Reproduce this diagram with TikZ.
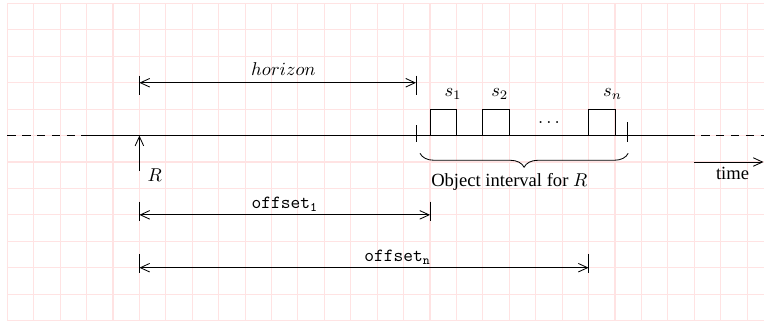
\documentclass[tikz,border=0pt]{standalone}
\usepackage{fontspec}
\newfontfamily\tms{Liberation Serif}
\usetikzlibrary{arrows.meta,decorations.pathreplacing}
\tikzset{
  gridline/.style={red!11, line width=0.6pt},
  axis/.style={line width=0.45pt},
  tip/.tip={Straight Barb[length=5pt,width=4.6pt]},
  dimline/.style={axis, tip-tip},
  oneway/.style={axis, -tip},
  tickline/.style={line width=0.45pt},
  dashpart/.style={axis, dash pattern=on 4.5pt off 3.5pt},
  slot/.style={draw, line width=0.45pt, minimum width=0.5cm, minimum height=0.5cm, inner sep=0pt, outer sep=0pt, anchor=south west},
  lbl/.style={inner sep=0pt, anchor=base},
  bracestyle/.style={axis, decorate, decoration={brace, mirror, amplitude=7.5pt}}
}
\begin{document}
\begin{tikzpicture}[x=0.5cm,y=-0.5cm]
\clip (-0.276,-0.132) rectangle (28.64,12.056);
% grid
\foreach \i in {0,...,29} \draw[gridline] (\i,0) -- (\i,12);
\foreach \j in {0,...,12} \draw[gridline] (0,\j) -- (29,\j);
% timeline
\coordinate (L0) at (0,5);
\coordinate (L1) at (2.8,5);
\coordinate (L2) at (25.7,5);
\coordinate (L3) at (28.8,5);
\draw[dashpart] (L0) -- (L1);
\draw[axis] (L1) -- (L2);
\draw[dashpart] (L2) -- (L3);
% slots
\node[slot] (s1) at (16,5) {};
\node[slot] (s2) at (18,5) {};
\node[slot] (sn) at (22,5) {};
\node[lbl] (s1l) at (16.87,3.53) {$s_1$};
\node[lbl] (s2l) at (18.64,3.53) {$s_2$};
\node[lbl] (snl) at (22.91,3.53) {$s_n$};
\node[lbl] (dots) at (20.5,4.53) {$\ldots$};
% interval ticks on timeline
\coordinate (ia) at (15.47,4.6);
\coordinate (ib) at (15.47,5.23);
\coordinate (ic) at (23.47,4.5);
\coordinate (id) at (23.47,5.23);
\draw[tickline] (ia) -- (ib);
\draw[tickline] (ic) -- (id);
% brace
\coordinate (ba) at (15.62,5.67);
\coordinate (bb) at (23.5,5.67);
\draw[bracestyle] (ba) -- (bb);
\node[lbl] (objlbl) at (19,6.93) {\tms Object interval for $R$};
% R arrow
\coordinate (Rb) at (5,6.33);
\coordinate (Rt) at (5,5);
\draw[oneway] (Rb) -- (Rt);
\node[inner sep=0pt, anchor=base west] (Rlbl) at (5.3,6.74) {$R$};
% horizon
\coordinate (h0) at (5,3);
\coordinate (h1) at (15.47,3);
\coordinate (h0a) at (5,2.73);
\coordinate (h0b) at (5,3.47);
\coordinate (h1a) at (15.47,2.73);
\coordinate (h1b) at (15.47,3.47);
\draw[tickline] (h0a) -- (h0b);
\draw[tickline] (h1a) -- (h1b);
\draw[dimline] (h0) -- (h1);
\node[lbl] (hlbl) at (10.45,2.71) {$horizon$};
% time arrow
\coordinate (t0) at (26,6);
\coordinate (t1) at (28.62,6);
\draw[oneway] (t0) -- (t1);
\node[lbl] (tlbl) at (27.45,6.68) {\tms time};
% offset 1
\coordinate (o10) at (5,8);
\coordinate (o11) at (16,8);
\coordinate (o10a) at (5,7.5);
\coordinate (o10b) at (5,8.22);
\coordinate (o11a) at (16,7.5);
\coordinate (o11b) at (16,8.22);
\draw[tickline] (o10a) -- (o10b);
\draw[tickline] (o11a) -- (o11b);
\draw[dimline] (o10) -- (o11);
\node[lbl] (o1lbl) at (10.5,7.75) {$\texttt{offset}_{\mathtt{1}}$};
% offset n
\coordinate (on0) at (5,10);
\coordinate (on1) at (22,10);
\coordinate (on0a) at (5,9.48);
\coordinate (on0b) at (5,10.21);
\coordinate (on1a) at (22,9.48);
\coordinate (on1b) at (22,10.21);
\draw[tickline] (on0a) -- (on0b);
\draw[tickline] (on1a) -- (on1b);
\draw[dimline] (on0) -- (on1);
\node[lbl] (onlbl) at (14.77,9.77) {$\texttt{offset}_{\mathtt{n}}$};
\end{tikzpicture}
\end{document}
